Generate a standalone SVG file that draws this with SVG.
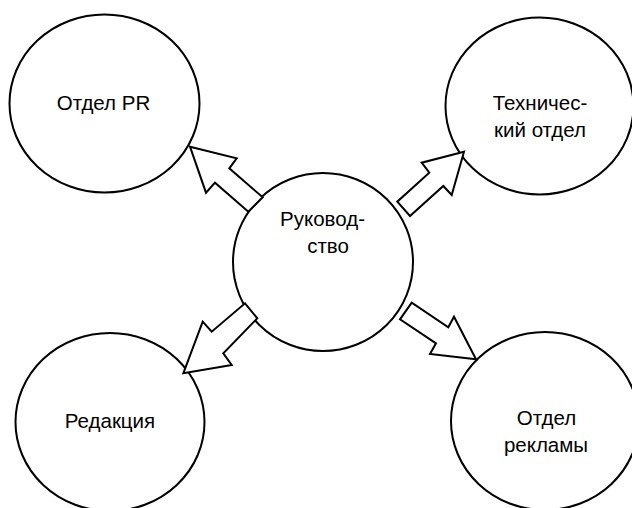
<svg xmlns="http://www.w3.org/2000/svg" width="632" height="508" viewBox="0 0 632 508">
<style>
.n{fill:#fff;stroke:#000;stroke-width:2}
.a{fill:#fff;stroke:#000;stroke-width:2;stroke-linejoin:miter}
text{font-family:"Liberation Sans",Arial,sans-serif;font-size:20.5px;fill:#000;text-anchor:middle}
</style>
<rect width="632" height="508" fill="#fff"/>
<g id="pr"><ellipse class="n" cx="104.5" cy="103.5" rx="95" ry="89"/><text x="103.5" y="110">Отдел PR</text></g>
<g id="tech"><ellipse class="n" cx="539.5" cy="106" rx="94" ry="88.5"/><text x="540" y="110">Техничес-</text><text x="540" y="137">кий отдел</text></g>
<g id="red"><ellipse class="n" cx="110" cy="422" rx="94.5" ry="89"/><text x="110" y="428">Редакция</text></g>
<g id="adv"><ellipse class="n" cx="545" cy="421" rx="94" ry="89"/><text x="546.5" y="425">Отдел</text><text x="546" y="452">рекламы</text></g>
<g id="head"><ellipse class="n" cx="323" cy="262" rx="90" ry="89"/><text x="322.5" y="226">Руковод-</text><text x="328" y="253">ство</text></g>
<g id="connectors">
<polygon class="a" points="190,146.7 236.7,158.3 229.3,168.3 262.7,197.3 248.3,211.7 215,182.7 206,192.7"/>
<polygon class="a" points="464,151.7 421.7,162.7 429.3,172.7 397.3,201.7 410,216 443.3,186 451.7,195"/>
<polygon class="a" points="183.3,373.3 202.7,321.7 211.7,331.7 245,303.3 257.3,318.3 223.3,353.3 231.7,365"/>
<polygon class="a" points="476,359.3 454,316.7 448.3,327.3 411.7,302.7 400,319.3 436,343.3 430,354"/>
</g>
</svg>
